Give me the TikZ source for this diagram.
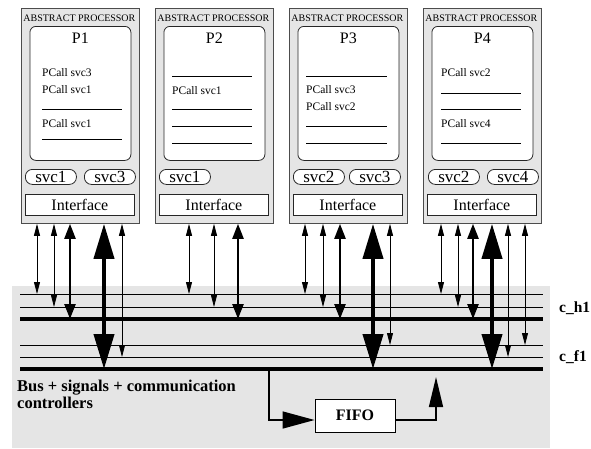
\documentclass[tikz,border=0pt]{standalone}
\usepackage{fontspec}
\setmainfont{Liberation Serif}
\usetikzlibrary{arrows.meta,calc}
\begin{document}
\begin{tikzpicture}[x=1pt,y=-1pt,
  procbox/.style={draw=black!70, fill=black!10, line width=0.8pt, minimum width=118pt, minimum height=215pt, inner sep=0pt, anchor=north west},
  inbox/.style={draw=black!85, fill=white, line width=0.8pt, rounded corners=6pt, minimum width=101pt, minimum height=134pt, inner sep=0pt, anchor=north west},
  pill/.style={draw=black!85, fill=white, line width=0.8pt, rounded corners=7pt, minimum width=51pt, minimum height=15pt, inner sep=0pt, anchor=north west, font=\fontsize{17}{17}\selectfont},
  iface/.style={draw=black!85, fill=white, line width=0.8pt, minimum width=109pt, minimum height=21pt, inner sep=0pt, anchor=north west, font=\fontsize{16}{16}\selectfont},
  ptitle/.style={font=\fontsize{10}{10}\selectfont, inner sep=0pt, anchor=base},
  pname/.style={font=\fontsize{16}{16}\selectfont, inner sep=0pt, anchor=base},
  pcall/.style={font=\fontsize{11.5}{11.5}\selectfont, inner sep=0pt, anchor=base west},
  sepline/.style={line width=0.7pt},
  busthin/.style={line width=0.8pt},
  busthick/.style={line width=3.5pt},
  arrA/.style={line width=0.8pt, {Triangle[length=12pt,width=6pt]}-{Triangle[length=12pt,width=6pt]}},
  arrB/.style={line width=2.4pt, {Triangle[length=15pt,width=11pt]}-{Triangle[length=15pt,width=11pt]}},
  arrC/.style={line width=4pt, {Triangle[length=35pt,width=20pt]}-{Triangle[length=35pt,width=20pt]}},
  fifoarrA/.style={line width=1.5pt, -{Triangle[length=32pt,width=17pt]}},
  fifoarrB/.style={line width=1.5pt, -{Triangle[length=30pt,width=14pt]}},
  blabel/.style={font=\bfseries\fontsize{15.5}{15.5}\selectfont, inner sep=0pt, anchor=base west}
]
\useasboundingbox (0,0) rectangle (591,448);

% processors
\foreach \i/\x in {1/21,2/155,3/289,4/423} {
  \node[procbox] (P\i) at (\x,8) {};
  \node[ptitle] (T\i) at ($(P\i.north)+(-1,13)$) {ABSTRACT PROCESSOR};
  \node[inbox] (I\i) at (\x+8.5,26) {};
  \node[pname] (N\i) at ($(I\i.north)+(0,17)$) {P\i};
  \node[iface] (F\i) at (\x+4,194) {Interface};
}

% P1 contents
\node[pcall] (c11) at (42,76) {PCall svc3};
\node[pcall] (c12) at (42,93) {PCall svc1};
\node[pcall] (c13) at (42,127) {PCall svc1};
\draw[sepline] (42,109) -- (122,109);
\draw[sepline] (42,139) -- (122,139);
\node[pill] (S11) at (25,169) {svc1};
\node[pill] (S12) at (84,169) {svc3};

% P2 contents
\draw[sepline] (172,76) -- (252,76);
\node[pcall] (c21) at (172,94) {PCall svc1};
\draw[sepline] (172,109) -- (252,109);
\draw[sepline] (172,126) -- (252,126);
\draw[sepline] (172,143) -- (252,143);
\node[pill] (S21) at (159,169) {svc1};

% P3 contents
\draw[sepline] (306,76) -- (387,76);
\node[pcall] (c31) at (306,93) {PCall svc3};
\node[pcall] (c32) at (306,110) {PCall svc2};
\draw[sepline] (306,126) -- (387,126);
\draw[sepline] (306,143) -- (387,143);
\node[pill] (S31) at (293,169) {svc2};
\node[pill] (S32) at (349,169) {svc3};

% P4 contents
\node[pcall] (c41) at (441,76) {PCall svc2};
\draw[sepline] (441,93) -- (521,93);
\draw[sepline] (441,109) -- (521,109);
\node[pcall] (c42) at (441,127) {PCall svc4};
\draw[sepline] (441,143) -- (521,143);
\node[pill] (S41) at (428,169) {svc2};
\node[pill] (S42) at (487,169) {svc4};

% bus area
\fill[black!10] (12,286) rectangle (550,448);
\coordinate (ha) at (20,294);
\coordinate (hb) at (20,307);
\coordinate (hc) at (20,319);
\coordinate (fa) at (20,345);
\coordinate (fb) at (20,357);
\coordinate (fc) at (20,369);
\coordinate (busend) at (543,0);
\draw[busthin] (ha) -- (busend |- ha);
\draw[busthin] (hb) -- (busend |- hb);
\draw[busthick] (hc) -- (busend |- hc);
\draw[busthin] (fa) -- (busend |- fa);
\draw[busthin] (fb) -- (busend |- fb);
\draw[busthick] (fc) -- (busend |- fc);

\node[blabel] (ch1) at (559,312) {c\_h1};
\node[blabel] (cf1) at (559,361) {c\_f1};
\node[font=\bfseries\fontsize{16.5}{16.5}\selectfont, inner sep=0pt, anchor=north west, align=left] (bus) at (17,380) {Bus + signals + communication\\controllers};

% arrows P1
\draw[arrA] (37,0 |- P1.south) -- (37,0 |- ha);
\draw[arrA] (54,0 |- P1.south) -- (54,0 |- hb);
\draw[arrB] (70,0 |- P1.south) -- (70,0 |- hc);
\draw[arrC] (104,0 |- P1.south) -- (104,0 |- fc);
\draw[arrA] (122,0 |- P1.south) -- (122,0 |- fb);
% arrows P2
\draw[arrA] (189,0 |- P2.south) -- (189,0 |- ha);
\draw[arrA] (214,0 |- P2.south) -- (214,0 |- hb);
\draw[arrB] (238,0 |- P2.south) -- (238,0 |- hc);
% arrows P3
\draw[arrA] (305,0 |- P3.south) -- (305,0 |- ha);
\draw[arrA] (323,0 |- P3.south) -- (323,0 |- hb);
\draw[arrB] (340,0 |- P3.south) -- (340,0 |- hc);
\draw[arrC] (373,0 |- P3.south) -- (373,0 |- fc);
\draw[arrA] (390,0 |- P3.south) -- (390,0 |- fa);
% arrows P4
\draw[arrA] (441,0 |- P4.south) -- (441,0 |- ha);
\draw[arrA] (458,0 |- P4.south) -- (458,0 |- hb);
\draw[arrB] (473,0 |- P4.south) -- (473,0 |- hc);
\draw[arrC] (492,0 |- P4.south) -- (492,0 |- fc);
\draw[arrA] (508,0 |- P4.south) -- (508,0 |- fb);
\draw[arrA] (525,0 |- P4.south) -- (525,0 |- fa);

% FIFO
\node[draw, fill=white, line width=0.8pt, minimum width=80pt, minimum height=33pt, inner sep=0pt, font=\bfseries\fontsize{16}{16}\selectfont] (FIFO) at (355,415.5) {FIFO};
\coordinate (fup) at (436,377);
\draw[fifoarrA] (269,0 |- fc) |- ($(FIFO.west)+(0,4.5)$);
\draw[fifoarrB] ($(FIFO.east)+(0,4.5)$) -| (fup);
\end{tikzpicture}
\end{document}
